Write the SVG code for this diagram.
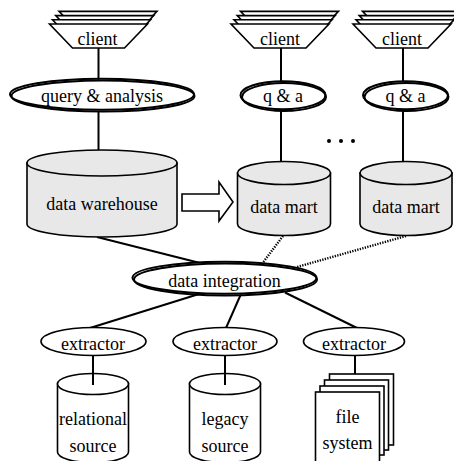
<svg xmlns="http://www.w3.org/2000/svg" width="454" height="461" viewBox="0 0 454 461">
<defs>
<style>
text{font-family:"Liberation Serif","Times New Roman",serif;font-size:18px;fill:#000;text-anchor:middle}
.s{fill:#fff;stroke:#000;stroke-width:1.6}
.g{fill:#e8e8e8;stroke:#000;stroke-width:1.6}
.dbl{fill:none;stroke:#000;stroke-width:2}
.ln{stroke:#000;stroke-width:2;fill:none}
.dot{stroke:#000;stroke-width:2.4;fill:none;stroke-dasharray:1.3 1.3}
</style>
<g id="clientShape">
<polygon class="s" points="-39.5,11.4 58.5,11.4 35.5,35.4 -16.5,35.4"/>
<polygon class="s" points="-42.8,15.6 55.2,15.6 32.2,39.6 -19.8,39.6"/>
<polygon class="s" points="-46,19.8 52,19.8 29,43.8 -23,43.8"/>
<polygon class="s" points="-49,24 49,24 26,48 -26,48"/>
</g>
</defs>
<g id="connectors">
<line class="ln" x1="98.5" y1="48" x2="98.5" y2="80"/>
<line class="ln" x1="98.5" y1="111" x2="98.5" y2="150"/>
<line class="ln" x1="281" y1="48" x2="281" y2="82"/>
<line class="ln" x1="281" y1="110" x2="281" y2="162"/>
<line class="ln" x1="403" y1="48" x2="403" y2="82"/>
<line class="ln" x1="403" y1="110" x2="403" y2="162"/>
<line class="ln" x1="97" y1="237" x2="200" y2="263"/>
<line class="dot" x1="283" y1="236" x2="263" y2="262.5"/>
<line class="dot" x1="406" y1="236" x2="297" y2="267"/>
<line class="ln" x1="199" y1="294" x2="90" y2="328"/>
<line class="ln" x1="241" y1="294" x2="226" y2="328"/>
<line class="ln" x1="285" y1="292.5" x2="357" y2="328"/>
<polygon class="s" points="182,194 219,194 219,182 233,202 219,221 219,211 182,211"/>
</g>
<g id="client1"><use href="#clientShape" x="98.5" y="0"/><text x="97.5" y="44.5">client</text></g>
<g id="client2"><use href="#clientShape" x="280" y="0"/><text x="280" y="44.5">client</text></g>
<g id="client3"><use href="#clientShape" x="402" y="0"/><text x="402" y="44.5">client</text></g>
<g id="query">
<ellipse cx="102" cy="95" rx="92" ry="15.5" fill="#fff"/>
<ellipse class="dbl" cx="102" cy="94.2" rx="92" ry="15.5"/>
<ellipse class="dbl" cx="103" cy="96" rx="91.5" ry="15.5"/>
<text x="102" y="102">query &amp; analysis</text>
</g>
<g id="qa1">
<ellipse cx="283" cy="96" rx="42.5" ry="14" fill="#fff"/>
<ellipse class="dbl" cx="283" cy="95.2" rx="42.5" ry="14"/>
<ellipse class="dbl" cx="284" cy="97" rx="42" ry="14"/>
<text x="283" y="102">q &amp; a</text>
</g>
<g id="qa2">
<ellipse cx="405.5" cy="96" rx="42.5" ry="14" fill="#fff"/>
<ellipse class="dbl" cx="405.5" cy="95.2" rx="42.5" ry="14"/>
<ellipse class="dbl" cx="406.5" cy="97" rx="42" ry="14"/>
<text x="405.5" y="102">q &amp; a</text>
</g>
<g id="ellipsis">
<circle cx="329" cy="141" r="2"/><circle cx="341" cy="141" r="2"/><circle cx="353" cy="141" r="2"/>
</g>
<g id="warehouse">
<path class="g" d="M27,163 V224 A75,13 0 0 0 177,224 V163 Z"/>
<ellipse class="g" cx="102" cy="163" rx="75" ry="13"/>
<text x="102" y="210">data warehouse</text>
</g>
<g id="mart1">
<path class="g" d="M237.5,173 V224 A46.5,11.5 0 0 0 330.5,224 V173 Z"/>
<ellipse class="g" cx="284" cy="173" rx="46.5" ry="11.5"/>
<text x="284" y="213">data mart</text>
</g>
<g id="mart2">
<path class="g" d="M360,173 V224 A46,11.5 0 0 0 452,224 V173 Z"/>
<ellipse class="g" cx="406" cy="173" rx="46" ry="11.5"/>
<text x="406" y="213">data mart</text>
</g>
<g id="integration">
<ellipse cx="224.5" cy="278.5" rx="92" ry="16" fill="#fff"/>
<ellipse class="dbl" cx="224.5" cy="277.7" rx="92" ry="16"/>
<ellipse class="dbl" cx="225.5" cy="279.5" rx="91.5" ry="16"/>
<text x="224.5" y="287">data integration</text>
</g>
<g id="extractor1"><ellipse class="s" cx="93.5" cy="341.5" rx="52.5" ry="14"/><text x="93" y="350">extractor</text></g>
<g id="extractor2"><ellipse class="s" cx="225" cy="341.5" rx="52" ry="14"/><text x="225" y="350">extractor</text></g>
<g id="extractor3"><ellipse class="s" cx="354" cy="341.5" rx="50.5" ry="14"/><text x="354" y="350">extractor</text></g>
<g id="relational">
<path class="s" d="M57.5,384 V452 A35.5,10.5 0 0 0 128.5,452 V384 Z"/>
<ellipse class="s" cx="93" cy="384" rx="35.5" ry="10.5"/>
<line class="ln" x1="93" y1="355.5" x2="93" y2="385"/>
<text x="93" y="425">relational</text>
<text x="93" y="452">source</text>
</g>
<g id="legacy">
<path class="s" d="M189.5,384 V452 A35.5,10.5 0 0 0 260.5,452 V384 Z"/>
<ellipse class="s" cx="225" cy="384" rx="35.5" ry="10.5"/>
<line class="ln" x1="225" y1="355.5" x2="225" y2="385"/>
<text x="225" y="425">legacy</text>
<text x="225" y="452">source</text>
</g>
<g id="filesystem">
<line class="ln" x1="355" y1="355.5" x2="355" y2="374"/>
<rect class="s" x="329.5" y="374" width="64" height="71"/>
<rect class="s" x="324.5" y="380" width="64" height="70"/>
<rect class="s" x="320" y="386" width="64" height="69"/>
<rect class="s" x="315.5" y="392" width="64" height="72"/>
<text x="347.5" y="423">file</text>
<text x="347.5" y="449">system</text>
</g>
</svg>
